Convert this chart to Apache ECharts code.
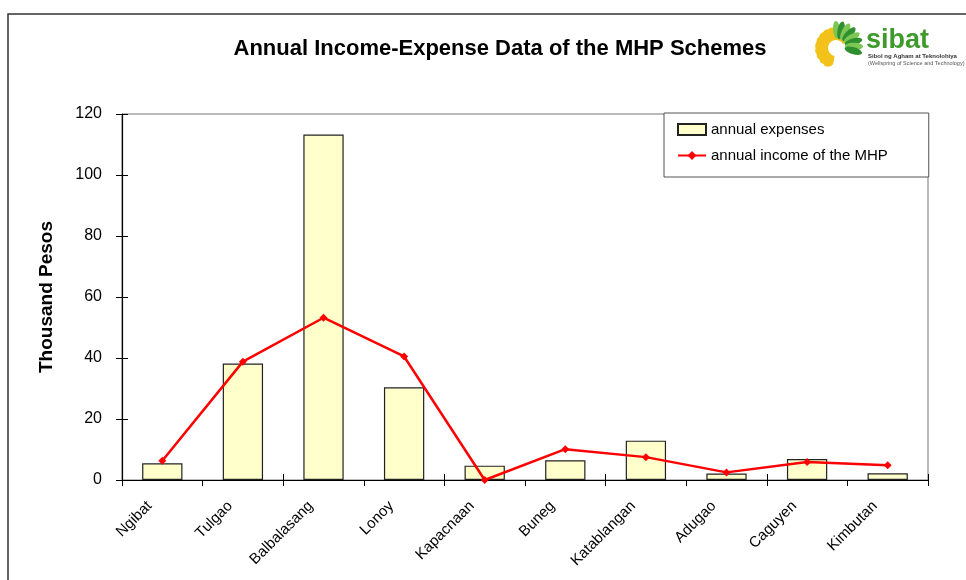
<!DOCTYPE html>
<html>
<head>
<meta charset="utf-8">
<script src="https://cdn.jsdelivr.net/npm/echarts@6/dist/echarts.min.js"></script>
<style>html,body{margin:0;padding:0;background:#fff}#c{width:966px;height:580px}</style>
</head>
<body>
<div id="c"></div>
<script>
const categories = ['Ngibat','Tulgao','Balbalasang','Lonoy','Kapacnaan','Buneg','Katablangan','Adugao','Caguyen','Kimbutan'];
const expenses = [5.5, 38.2, 113.3, 30.4, 4.7, 6.5, 12.9, 2.1, 6.9, 2.2];
const income = [6.3, 38.8, 53.2, 40.5, 0, 10.1, 7.5, 2.5, 5.9, 4.8];
const yTicks = {min: 0, max: 120, interval: 20};

const FONT = '"Liberation Sans", Arial, sans-serif';
const chart = echarts.init(document.getElementById('c'), null, {renderer: 'canvas'});

// logo (decorative)
const logo = [];
const cx = 836, cy = 48;
for (let i = 0; i < 12; i++) {
  const a = (120 + i * 17) * Math.PI / 180;
  logo.push({
    type: 'circle', z: 10,
    shape: {cx: cx + Math.cos(a) * 16, cy: cy + Math.sin(a) * 16, r: 5},
    style: {fill: '#f2c21b'}
  });
}
logo.push({type: 'sector', z: 10, shape: {cx: cx, cy: cy, r0: 8, r: 17, startAngle: 100 * Math.PI / 180, endAngle: 330 * Math.PI / 180}, style: {fill: '#f2c21b'}});
for (let i = 0; i < 8; i++) {
  const a = (-95 + i * 16) * Math.PI / 180;
  const px = cx + 2 + Math.cos(a) * 16, py = cy - 2 + Math.sin(a) * 16;
  logo.push({
    type: 'ellipse', z: 11,
    shape: {cx: px, cy: py, rx: 9, ry: 3.5},
    rotation: -a, originX: px, originY: py,
    style: {fill: i % 2 ? '#2f8f2f' : '#7cc654'}
  });
}

chart.setOption({
  animation: false,
  backgroundColor: '#fff',
  title: {
    text: 'Annual Income-Expense Data of the MHP Schemes',
    left: 495, top: 33, textAlign: 'center',
    textStyle: {fontFamily: FONT, fontSize: 22, fontWeight: 'bold', color: '#000'}
  },
  legend: {
    left: 664, top: 113,
    orient: 'vertical',
    backgroundColor: '#fff',
    borderColor: '#555', borderWidth: 1,
    padding: [9, 41, 14, 13],
    itemWidth: 28, itemHeight: 11, itemGap: 11,
    textStyle: {fontFamily: FONT, fontSize: 15, color: '#000'},
    data: [
      {name: 'annual expenses', icon: 'rect'},
      {name: 'annual income of the MHP'}
    ]
  },
  grid: {
    left: 122, right: 38, top: 114, bottom: 100,
    show: true, borderColor: '#777', borderWidth: 1, backgroundColor: 'transparent'
  },
  xAxis: [{
    type: 'category', data: categories,
    axisLine: {lineStyle: {color: '#000', width: 1.2}},
    axisTick: {show: true, length: 6, lineStyle: {color: '#000'}},
    axisLabel: {rotate: 45, margin: 11, interval: 0, padding: [0, 18, 0, 0], fontFamily: FONT, fontSize: 15, color: '#000'}
  }, {
    type: 'category', data: categories, position: 'bottom',
    axisLine: {show: false},
    axisTick: {show: true, inside: true, length: 6, lineStyle: {color: '#000'}},
    axisLabel: {show: false}
  }],
  yAxis: [{
    type: 'value', min: yTicks.min, max: yTicks.max, interval: yTicks.interval,
    name: 'Thousand Pesos', nameLocation: 'middle', nameRotate: 90, nameGap: 66,
    nameTextStyle: {fontFamily: FONT, fontSize: 19, fontWeight: 'bold', color: '#000'},
    axisLine: {show: true, lineStyle: {color: '#000', width: 1.2}},
    axisTick: {show: true, length: 6, lineStyle: {color: '#000'}},
    axisLabel: {margin: 20, fontFamily: FONT, fontSize: 16, color: '#000'},
    splitLine: {show: false}
  }, {
    type: 'value', min: yTicks.min, max: yTicks.max, interval: yTicks.interval, position: 'left',
    axisLine: {show: false},
    axisTick: {show: true, inside: true, length: 6, lineStyle: {color: '#000'}},
    axisLabel: {show: false},
    splitLine: {show: false}
  }],
  series: [{
    name: 'annual expenses', type: 'bar', data: expenses,
    barCategoryGap: '50%',
    itemStyle: {color: '#FFFFCC', borderColor: '#222', borderWidth: 1.2}
  }, {
    name: 'annual income of the MHP', type: 'line', data: income,
    symbol: 'diamond', symbolSize: 8, z: 5,
    lineStyle: {color: '#ff0000', width: 2.5},
    itemStyle: {color: '#ff0000'}
  }],
  graphic: [
    {type: 'polyline', z: 20, shape: {points: [[8, 580], [8, 14], [966, 14]]}, style: {stroke: '#333', lineWidth: 1.5, fill: null}},
    ...logo,
    {type: 'text', z: 12, left: 866, top: 27, style: {text: 'sibat', fontFamily: FONT, fontSize: 27, fontWeight: 'bold', fill: '#3f9a2c'}},
    {type: 'text', z: 12, left: 868, top: 53, style: {text: 'Sibol ng Agham at Teknolohiya', fontFamily: FONT, fontSize: 6, fontWeight: 'bold', fill: '#333'}},
    {type: 'text', z: 12, left: 868, top: 60, style: {text: '(Wellspring of Science and Technology)', fontFamily: FONT, fontSize: 5.5, fill: '#555'}}
  ]
});
</script>
</body>
</html>
